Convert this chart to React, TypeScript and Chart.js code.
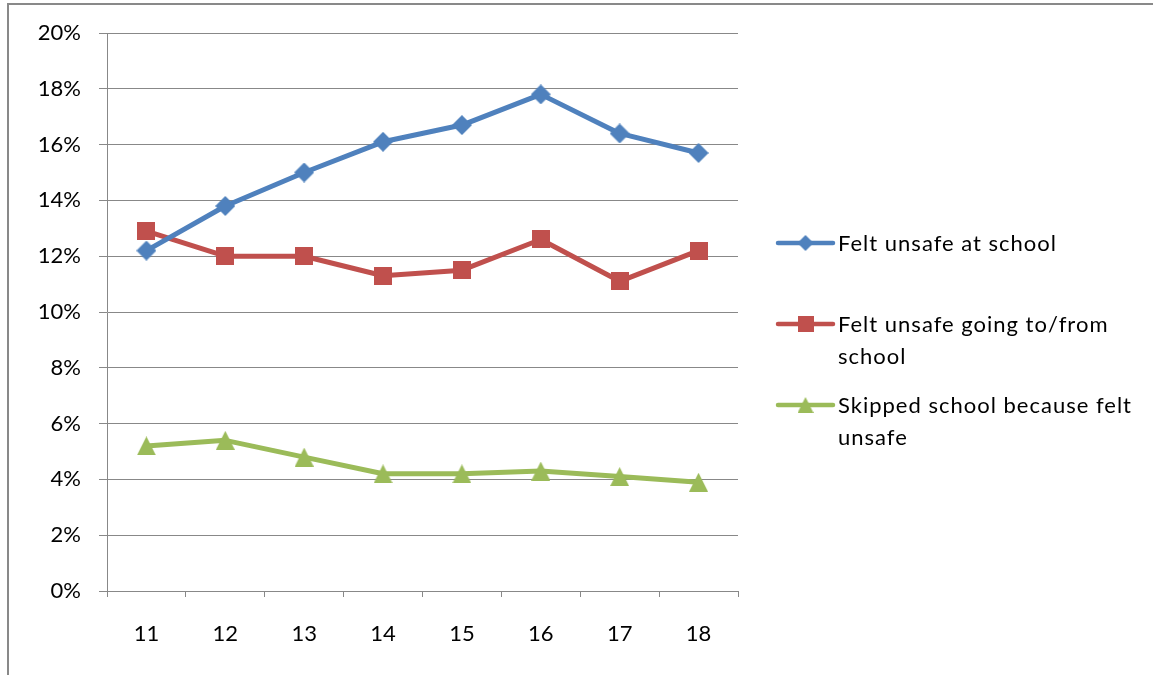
import { Chart, registerables, type ChartOptions, type Plugin } from "chart.js";
import { useEffect, useRef } from "react";

Chart.register(...registerables);

const ages = ["11", "12", "13", "14", "15", "16", "17", "18"];
const feltUnsafeAtSchool = [12.2, 13.8, 15.0, 16.1, 16.7, 17.8, 16.4, 15.7];
const feltUnsafeGoingToFrom = [12.9, 12.0, 12.0, 11.3, 11.5, 12.6, 11.1, 12.2];
const skippedBecauseUnsafe = [5.2, 5.4, 4.8, 4.2, 4.2, 4.3, 4.1, 3.9];

const legendLines = [
  ["Felt unsafe at school"],
  ["Felt unsafe going to/from", "school"],
  ["Skipped school because felt", "unsafe"],
];

const seriesColors = ["#4F81BD", "#C0504D", "#9BBB59"];
const markerShapes = ["diamond", "square", "triangle"] as const;

const FONT = "Lato, 'Open Sans', sans-serif";
const GRID = "#888888";

type Shape = (typeof markerShapes)[number];

function makeMarker(shape: Shape, color: string, size: number) {
  const c = document.createElement("canvas");
  c.width = size;
  c.height = size;
  const ctx = c.getContext("2d")!;
  ctx.fillStyle = color;
  ctx.beginPath();
  if (shape === "diamond") {
    ctx.moveTo(size / 2, 0);
    ctx.lineTo(size, size / 2);
    ctx.lineTo(size / 2, size);
    ctx.lineTo(0, size / 2);
  } else if (shape === "square") {
    ctx.rect(0, 0, size, size);
  } else {
    ctx.moveTo(size / 2, 0);
    ctx.lineTo(size, size);
    ctx.lineTo(0, size);
  }
  ctx.closePath();
  ctx.fill();
  return c;
}

const legendPlugin: Plugin<"line"> = {
  id: "sideLegend",
  afterDraw(chart) {
    const { ctx, chartArea } = chart;
    const lineStart = chartArea.right + 40;
    const lineEnd = lineStart + 55;
    const textX = lineEnd + 5;
    const rowTops = [210, 291, 372];
    ctx.save();
    ctx.font = `22px ${FONT}`;
    (ctx as any).letterSpacing = "1px";
    ctx.textBaseline = "middle";
    ctx.fillStyle = "#000000";
    chart.data.datasets.forEach((_ds, i) => {
      const y = chartArea.top + rowTops[i];
      ctx.strokeStyle = seriesColors[i];
      ctx.lineWidth = 4.5;
      ctx.lineCap = "round";
      ctx.beginPath();
      ctx.moveTo(lineStart, y);
      ctx.lineTo(lineEnd, y);
      ctx.stroke();
      const marker = makeMarker(markerShapes[i], seriesColors[i], i === 0 ? 16 : 16);
      ctx.drawImage(
        marker,
        (lineStart + lineEnd) / 2 - marker.width / 2,
        y - marker.height / 2,
      );
      legendLines[i].forEach((text, k) => {
        ctx.fillText(text, textX, y + 1 + k * 32);
      });
    });
    ctx.restore();
  },
};

const options: ChartOptions<"line"> = {
  responsive: true,
  maintainAspectRatio: false,
  animation: false,
  layout: {
    padding: { top: 33, right: 415, bottom: 0, left: 0 },
  },
  plugins: {
    legend: { display: false },
    tooltip: { enabled: false },
  },
  scales: {
    x: {
      offset: true,
      afterFit(scale) {
        scale.height = 84;
      },
      grid: {
        offset: true,
        drawOnChartArea: false,
        drawTicks: true,
        tickLength: 6,
        color: GRID,
      },
      border: { color: GRID, width: 1 },
      ticks: {
        color: "#000000",
        font: { family: FONT, size: 22 },
        padding: 24,
        maxRotation: 0,
      },
    },
    y: {
      min: 0,
      max: 20,
      afterFit(scale) {
        scale.width = 107;
      },
      grid: {
        color: GRID,
        lineWidth: 1,
        drawTicks: true,
        tickLength: 8,
      },
      border: { color: GRID, width: 1 },
      ticks: {
        stepSize: 2,
        color: "#000000",
        font: { family: FONT, size: 22 },
        padding: 18,
        callback(value) {
          return `${value}%`;
        },
      },
    },
  },
};

function SafetyChart() {
  const canvasRef = useRef<HTMLCanvasElement>(null);

  useEffect(() => {
    if (!canvasRef.current) {
      return;
    }

    const seriesData = [feltUnsafeAtSchool, feltUnsafeGoingToFrom, skippedBecauseUnsafe];
    const markerSizes = [20, 18, 19];

    const chart = new Chart(canvasRef.current, {
      type: "line",
      data: {
        labels: ages,
        datasets: seriesData.map((data, i) => ({
          label: legendLines[i].join(" "),
          data,
          borderColor: seriesColors[i],
          backgroundColor: seriesColors[i],
          borderWidth: 5,
          borderJoinStyle: "round" as const,
          borderCapStyle: "round" as const,
          pointStyle: makeMarker(markerShapes[i], seriesColors[i], markerSizes[i]),
          pointRadius: 9,
          tension: 0,
        })),
      },
      options,
      plugins: [legendPlugin],
    });

    return () => {
      chart.destroy();
    };
  }, []);

  return <canvas ref={canvasRef} />;
}

export default function App() {
  return (
    <div
      style={{
        position: "fixed",
        left: 0,
        top: 0,
        width: 1153,
        height: 675,
        overflow: "hidden",
        background: "#ffffff",
      }}
    >
      <div
        style={{
          position: "absolute",
          left: 7,
          top: 3,
          width: 1300,
          height: 800,
          borderTop: "2px solid #898989",
          borderLeft: "2px solid #898989",
        }}
      />
      <div style={{ position: "absolute", left: 0, top: 0, width: 1153, height: 675 }}>
        <SafetyChart />
      </div>
    </div>
  );
}
